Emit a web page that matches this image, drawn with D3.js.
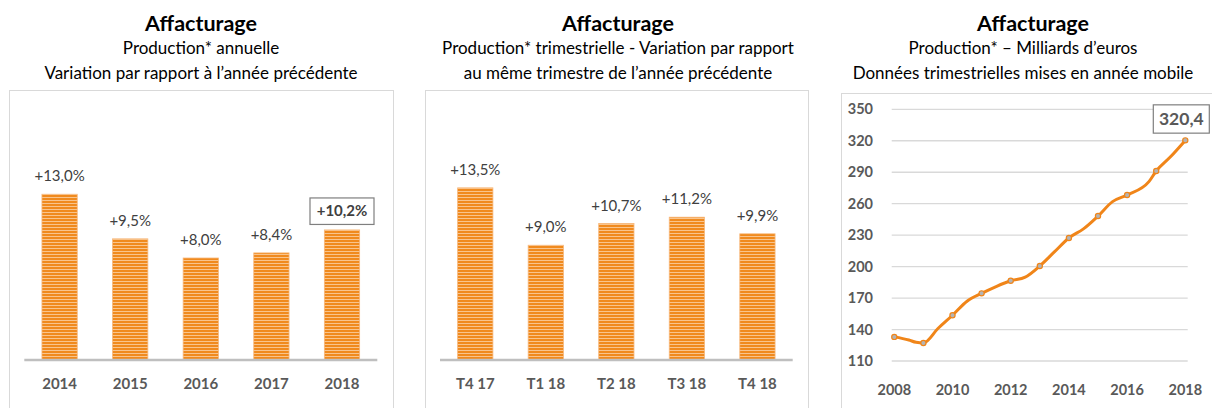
<!DOCTYPE html>
<html>
<head>
<meta charset="utf-8">
<script src="https://cdn.jsdelivr.net/npm/d3@7"></script>
<style>
  body { margin: 0; background: #fff; }
  svg { display: block; font-family: Lato, "Noto Sans", sans-serif; }
</style>
</head>
<body>
<svg id="canvas" width="1212" height="408"></svg>
<script>
// data
let years = ['2014', '2015', '2016', '2017', '2018']
let annualGrowth = [13.0, 9.5, 8.0, 8.4, 10.2]

let quarters = ['T4 17', 'T1 18', 'T2 18', 'T3 18', 'T4 18']
let quarterlyGrowth = [13.5, 9.0, 10.7, 11.2, 9.9]

// production, billions of euros (rolling year), markers on whole years
let prodDates = [2008, 2008.5, 2008.75, 2009, 2009.5, 2010, 2010.5, 2011, 2011.5, 2012, 2012.5,
                 2013, 2013.5, 2014, 2014.5, 2015, 2015.5, 2016, 2016.75, 2017, 2017.5, 2018]
let prodValues = [133.0, 130.0, 127.8, 127.2, 141.0, 153.6, 167.0, 174.5, 181.0, 186.5, 190.0,
                  200.6, 214.0, 227.3, 236.0, 248.2, 262.0, 268.3, 281.0, 291.2, 305.0, 320.4]
let yTicks = [110, 140, 170, 200, 230, 260, 290, 320, 350]
let xTicks = [2008, 2010, 2012, 2014, 2016, 2018]

let titles = [
    {x: 201, title: 'Affacturage', sub: ['Production* annuelle', 'Variation par rapport à l\u2019année précédente']},
    {x: 618, title: 'Affacturage', sub: ['Production* trimestrielle - Variation par rapport', 'au même trimestre de l\u2019année précédente']},
    {x: 1023, tx: 1033, title: 'Affacturage', sub: ['Production* \u2013 Milliards d\u2019euros', 'Données trimestrielles mises en année mobile']}
]

let fr = d3.formatLocale({decimal: ',', thousands: ' ', grouping: [3], currency: ['', '€']})
let pct = v => fr.format('+.1f')(v) + '%'

let canvas = d3.select('#canvas')

// striped orange fill like the original bars
let pat = canvas.append('defs').append('pattern')
    .attr('id', 'stripes')
    .attr('patternUnits', 'userSpaceOnUse')
    .attr('width', 6).attr('height', 3)
pat.append('rect').attr('width', 6).attr('height', 3).attr('fill', '#f9c48c')
pat.append('rect').attr('width', 6).attr('height', 2).attr('fill', '#f08a1e')

// panel frames
let frames = [[9.5, 90.5, 384], [425.5, 90.5, 383], [841.5, 93.5, 400]]
frames.forEach(f => {
    canvas.append('rect')
        .attr('x', f[0]).attr('y', f[1]).attr('width', f[2]).attr('height', 340)
        .attr('fill', 'none').attr('stroke', '#d9d9d9')
})

// titles
titles.forEach(t => {
    canvas.append('text')
        .attr('x', t.tx || t.x).attr('y', 31)
        .attr('text-anchor', 'middle')
        .style('font-weight', 'bold').style('font-size', '21.5px')
        .attr('fill', '#000')
        .text(t.title)
    t.sub.forEach((s, i) => {
        canvas.append('text')
            .attr('x', t.x).attr('y', 54 + i * 25)
            .attr('text-anchor', 'middle')
            .style('font-size', '17px')
            .attr('fill', '#000')
            .text(s)
    })
})

let barY = d3.scaleLinear().domain([0, 14]).range([360, 360 - 14 * 12.75])

let drawBars = (cats, vals, x0, x1) => {
    let x = d3.scaleBand().domain(cats).range([x0, x1]).paddingInner(0.5).paddingOuter(0.25)
    let g = canvas.append('g')

    g.selectAll('rect.bar')
        .data(vals)
        .enter()
        .append('rect')
        .attr('class', 'bar')
        .attr('x', (d, i) => x(cats[i]))
        .attr('y', d => barY(d))
        .attr('width', x.bandwidth())
        .attr('height', d => barY(0) - barY(d))
        .attr('fill', 'url(#stripes)')
        .attr('stroke', '#f7b77a').attr('stroke-width', 0.8)

    // axis line
    g.append('line')
        .attr('x1', x0).attr('x2', x1)
        .attr('y1', barY(0)).attr('y2', barY(0))
        .attr('stroke', '#bfbfbf').attr('stroke-width', 2.6)

    g.selectAll('text.cat')
        .data(cats)
        .enter()
        .append('text')
        .attr('class', 'cat')
        .attr('x', d => x(d) + x.bandwidth() / 2)
        .attr('y', 389)
        .attr('text-anchor', 'middle')
        .style('font-weight', 'bold').style('font-size', '15px')
        .attr('fill', '#595959')
        .text(d => d)

    g.selectAll('text.val')
        .data(vals)
        .enter()
        .append('text')
        .attr('class', 'val')
        .attr('x', (d, i) => x(cats[i]) + x.bandwidth() / 2)
        .attr('y', d => barY(d) - 13)
        .attr('text-anchor', 'middle')
        .style('font-size', '15px')
        .attr('fill', '#404040')
        .text(d => pct(d))
    return {x: x, g: g}
}

let p1 = drawBars(years, annualGrowth, 24.3, 377.3)
drawBars(quarters, quarterlyGrowth, 440, 792.7)

// boxed highlight on the latest year
let hv = annualGrowth[annualGrowth.length - 1]
let hx = p1.x(years[years.length - 1]) + p1.x.bandwidth() / 2
p1.g.selectAll('text.val').filter((d, i) => i === annualGrowth.length - 1).remove()
p1.g.append('rect')
    .attr('x', hx - 32).attr('y', barY(hv) - 32)
    .attr('width', 64).attr('height', 26.5)
    .attr('fill', '#fff').attr('stroke', '#7f7f7f').attr('stroke-width', 1.2)
p1.g.append('text')
    .attr('x', hx).attr('y', barY(hv) - 13.5)
    .attr('text-anchor', 'middle')
    .style('font-weight', 'bold').style('font-size', '15px')
    .attr('fill', '#404040')
    .text(pct(hv))

// line chart
let lx = d3.scaleLinear().domain([2008, 2018]).range([894.3, 1185.3])
let ly = d3.scaleLinear().domain([110, 350]).range([361, 109.3])

let lg = canvas.append('g')
lg.selectAll('line.grid')
    .data(yTicks)
    .enter()
    .append('line')
    .attr('class', 'grid')
    .attr('x1', lx(2008) - 2.6).attr('x2', lx(2018) + 2.4)
    .attr('y1', d => ly(d)).attr('y2', d => ly(d))
    .attr('stroke', '#d9d9d9').attr('stroke-width', 1.3)

lg.selectAll('text.yt')
    .data(yTicks)
    .enter()
    .append('text')
    .attr('class', 'yt')
    .attr('x', 873).attr('y', d => ly(d) + 5)
    .attr('text-anchor', 'end')
    .style('font-weight', 'bold').style('font-size', '14.5px')
    .attr('fill', '#595959')
    .text(d => d)

lg.selectAll('text.xt')
    .data(xTicks)
    .enter()
    .append('text')
    .attr('class', 'xt')
    .attr('x', d => lx(d)).attr('y', 395)
    .attr('text-anchor', 'middle')
    .style('font-weight', 'bold').style('font-size', '14.5px')
    .attr('fill', '#595959')
    .text(d => d)

let pts = prodDates.map((d, i) => [d, prodValues[i]])
lg.append('path')
    .datum(pts)
    .attr('d', d3.line().x(d => lx(d[0])).y(d => ly(d[1])).curve(d3.curveMonotoneX))
    .attr('fill', 'none').attr('stroke', '#f08519').attr('stroke-width', 3)

lg.selectAll('circle')
    .data(pts.filter(d => d[0] % 1 === 0))
    .enter()
    .append('circle')
    .attr('cx', d => lx(d[0])).attr('cy', d => ly(d[1]))
    .attr('r', 2.6)
    .attr('fill', '#b4b4b4').attr('stroke', '#f08519').attr('stroke-width', 1.2)

let lastPt = pts[pts.length - 1]
lg.append('rect')
    .attr('x', lx(lastPt[0]) - 32).attr('y', ly(lastPt[1]) - 35.5)
    .attr('width', 56).attr('height', 28.3)
    .attr('fill', '#fff').attr('stroke', '#7f7f7f').attr('stroke-width', 1.2)
lg.append('text')
    .attr('x', lx(lastPt[0]) - 4).attr('y', ly(lastPt[1]) - 15)
    .attr('text-anchor', 'middle')
    .style('font-weight', 'bold').style('font-size', '17.5px')
    .attr('fill', '#595959')
    .text(fr.format('.1f')(lastPt[1]))
</script>
</body>
</html>
